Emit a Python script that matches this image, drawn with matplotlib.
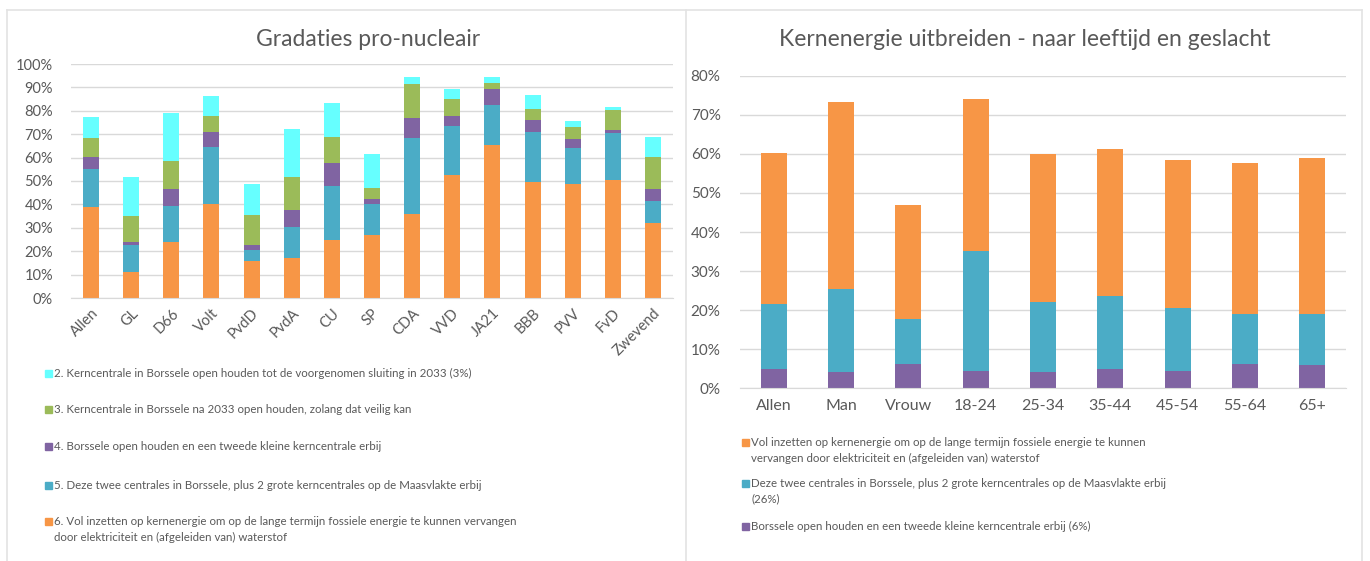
import matplotlib
matplotlib.use('Agg')
import matplotlib.pyplot as plt
import numpy as np
from matplotlib.patches import Rectangle
from matplotlib.lines import Line2D
from matplotlib.ticker import PercentFormatter

plt.rcParams['font.family'] = ['Lato', 'DejaVu Sans']

# left chart: gradations per party (percent)
parties = ['Allen', 'GL', 'D66', 'Volt', 'PvdD', 'PvdA', 'CU', 'SP', 'CDA', 'VVD',
           'JA21', 'BBB', 'PVV', 'FvD', 'Zwevend']
opt6 = [38.7, 11.0, 24.0, 40.3, 15.9, 17.1, 24.6, 26.9, 35.8, 52.6, 65.3, 49.4, 48.6, 50.4, 32.1]
opt5 = [16.5, 11.8, 15.3, 24.1, 4.7, 13.1, 23.2, 13.4, 32.5, 20.8, 17.3, 21.7, 15.6, 19.9, 9.2]
opt4 = [5.0, 1.2, 7.4, 6.6, 1.9, 7.2, 9.8, 2.1, 8.5, 4.5, 6.6, 4.9, 3.7, 1.7, 5.4]
opt3 = [8.2, 10.9, 11.8, 6.7, 12.9, 14.2, 11.1, 4.8, 14.5, 7.0, 2.8, 4.9, 5.2, 8.2, 13.6]
opt2 = [9.0, 16.7, 20.4, 8.8, 13.2, 20.8, 14.7, 14.4, 3.0, 4.4, 2.3, 5.9, 2.7, 1.6, 8.4]

left_labels = [
    '2. Kerncentrale in Borssele open houden tot de voorgenomen sluiting in 2033 (3%)',
    '3. Kerncentrale in Borssele na 2033 open houden, zolang dat veilig kan',
    '4. Borssele open houden en een tweede kleine kerncentrale erbij',
    '5. Deze twee centrales in Borssele, plus 2 grote kerncentrales op de Maasvlakte erbij',
    '6. Vol inzetten op kernenergie om op de lange termijn fossiele energie te kunnen vervangen\n'
    'door elektriciteit en (afgeleiden van) waterstof',
]

# right chart: by age and gender (percent)
groups = ['Allen', 'Man', 'Vrouw', '18-24', '25-34', '35-44', '45-54', '55-64', '65+']
small = [5.0, 4.1, 6.1, 4.5, 4.1, 5.0, 4.5, 6.1, 5.9]
maasvlakte = [16.5, 21.2, 11.6, 30.6, 17.9, 18.5, 16.0, 12.8, 13.2]
vol = [38.7, 47.9, 29.3, 38.9, 38.0, 37.7, 37.8, 38.7, 39.9]

right_labels = [
    'Vol inzetten op kernenergie om op de lange termijn fossiele energie te kunnen\n'
    'vervangen door elektriciteit en (afgeleiden van) waterstof',
    'Deze twee centrales in Borssele, plus 2 grote kerncentrales op de Maasvlakte erbij\n(26%)',
    'Borssele open houden en een tweede kleine kerncentrale erbij (6%)',
]

c_orange = '#F79646'
c_blue = '#4BACC6'
c_purple = '#8064A2'
c_green = '#9BBB59'
c_cyan = '#66FFFF'
txt = '#595959'
grid = '#D9D9D9'

W, H = 1370, 561
fig = plt.figure(figsize=(13.7, 5.61), dpi=100)


def fx(px):
    return px / W


def fy(py):
    return 1 - py / H


def style_axes(ax):
    for s in ['top', 'right', 'left']:
        ax.spines[s].set_visible(False)
    ax.spines['bottom'].set_color(grid)
    ax.grid(axis='y', color=grid, lw=1)
    ax.set_axisbelow(True)
    ax.tick_params(axis='both', length=0, colors=txt)
    ax.yaxis.set_major_formatter(PercentFormatter(decimals=0))


# left chart
ax1 = fig.add_axes([fx(71), fy(298), fx(673 - 71), (298 - 64) / H])
x1 = np.arange(len(parties))
bottom = np.zeros(len(parties))
stack1 = [(opt6, c_orange), (opt5, c_blue), (opt4, c_purple), (opt3, c_green), (opt2, c_cyan)]
for vals, col in stack1:
    ax1.bar(x1, vals, bottom=bottom, width=0.4, color=col)
    bottom += np.array(vals)
ax1.set_ylim(0, 100)
ax1.set_yticks(range(0, 101, 10))
ax1.set_xlim(-0.5, len(parties) - 0.5)
ax1.set_xticks(x1)
ax1.set_xticklabels(parties, rotation=45, ha='right', rotation_mode='anchor')
style_axes(ax1)
ax1.tick_params(axis='x', pad=6, labelsize=10.5)
ax1.tick_params(axis='y', pad=13, labelsize=10.5)
fig.text(fx(368), fy(40), 'Gradaties pro-nucleair', ha='center', va='center',
         fontsize=16.5, color=txt)

# left legend
leg_cols = [c_cyan, c_green, c_purple, c_blue, c_orange]
leg_y = [374, 410, 447, 486, 522]
for lab, col, y in zip(left_labels, leg_cols, leg_y):
    fig.patches.append(Rectangle((fx(45), fy(y + 3)), fx(7), 7 / H, color=col,
                                 transform=fig.transFigure, figure=fig))
    fig.text(fx(54), fy(y - 6), lab, ha='left', va='top',
             fontsize=8.3, color=txt, linespacing=1.5)

# right chart
ax2 = fig.add_axes([fx(740), fy(388.3), fx(1346 - 740), (388.3 - 75.7) / H])
x2 = np.arange(len(groups))
bottom = np.zeros(len(groups))
for vals, col in [(small, c_purple), (maasvlakte, c_blue), (vol, c_orange)]:
    ax2.bar(x2, vals, bottom=bottom, width=0.39, color=col)
    bottom += np.array(vals)
ax2.set_ylim(0, 80)
ax2.set_yticks(range(0, 81, 10))
ax2.set_xlim(-0.5, len(groups) - 0.5)
ax2.set_xticks(x2)
ax2.set_xticklabels(groups)
style_axes(ax2)
ax2.tick_params(axis='x', pad=8, labelsize=11.5)
ax2.tick_params(axis='y', pad=14, labelsize=11)
fig.text(fx(1025), fy(40), 'Kernenergie uitbreiden - naar leeftijd en geslacht',
         ha='center', va='center', fontsize=16.5, color=txt)

# right legend
for lab, col, y in zip(right_labels, [c_orange, c_blue, c_purple], [443, 484, 527]):
    fig.patches.append(Rectangle((fx(742), fy(y + 3)), fx(7), 7 / H, color=col,
                                 transform=fig.transFigure, figure=fig))
    fig.text(fx(751), fy(y - 6), lab, ha='left', va='top',
             fontsize=8.3, color=txt, linespacing=1.5)

# panel borders
for xs, ys in [([7, 1362], [10, 10]), ([7, 7], [10, 561]),
               ([686, 686], [10, 561]), ([1362, 1362], [10, 561])]:
    fig.add_artist(Line2D([fx(v) for v in xs], [fy(v) for v in ys],
                          color='#E3E3E3', lw=1.2, transform=fig.transFigure))

fig.savefig('out.png', dpi=100)
